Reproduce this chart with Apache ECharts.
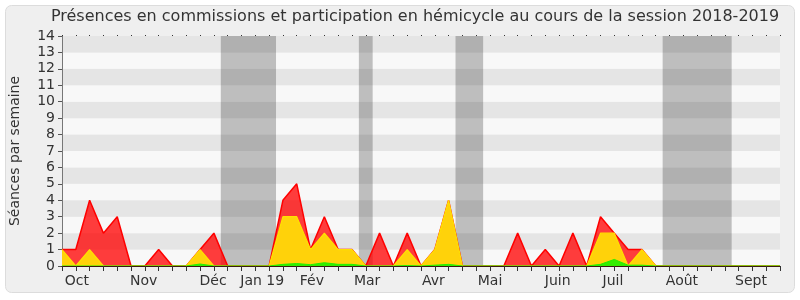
<!DOCTYPE html>
<html><head><meta charset="utf-8">
<script src="https://cdn.jsdelivr.net/npm/echarts@6/dist/echarts.min.js"></script>
<style>html,body{margin:0;padding:0;background:#fff}#c{width:800px;height:300px}</style>
</head><body><div id="c"></div>
<script>
// week index 0..52 (session weeks)
const red    = [1,1,4,2,3,0,0,1,0,0,1,2, 0,0,0,0, 4,5,1,3,1,1, 0,2,0,2,0,1,4,0, 0,0,0,2,0,1,0,2,0,3,2,1,1,0, 0,0,0,0,0,0,0,0,0];
const yellow = [1,0,1,0,0,0,0,0,0,0,1,0, 0,0,0,0, 3,3,1,2,1,1, 0,0,0,1,0,1,4,0, 0,0,0,0,0,0,0,0,0,2,2,0,1,0, 0,0,0,0,0,0,0,0,0];
const green  = [0,0,0,0,0,0,0,0,0,0,0.12,0, 0,0,0,0, 0.1,0.15,0.08,0.2,0.1,0.1, 0,0,0,0.03,0,0.05,0.1,0, 0,0,0,0,0,0,0,0,0,0.1,0.4,0.05,0.05,0, 0,0,0,0,0,0,0,0,0];
const monthNames = ['Oct','Nov','Déc','Jan 19','Fév','Mar','Avr','Mai','Juin','Juil','Août','Sept'];
const monthPos   = [1.08, 5.91, 10.94, 14.5, 18.1, 22.1, 26.9, 31.0, 35.9, 39.9, 44.9, 49.9];
const holidays = [[11.5,15.5],[21.5,22.5],[28.5,30.5],[43.5,48.5]];
const title = 'Présences en commissions et participation en hémicycle au cours de la session 2018-2019';
const yName = 'Séances par semaine';

const font = 'DejaVu Sans';
const toPts = arr => arr.map((v,i)=>[i,v]);
const chart = echarts.init(document.getElementById('c'), null, {renderer:'canvas'});
chart.setOption({
  animation:false,
  textStyle:{fontFamily:font},
  graphic:[{type:'rect', z:-10, shape:{x:5.5,y:5.5,width:789,height:287,r:6}, style:{fill:'#efefef', stroke:'#dcdcdc', lineWidth:1}}],
  title:{text:title, left:410, textAlign:'center', top:4, textStyle:{fontFamily:font, fontSize:16, fontWeight:'normal', color:'#333'}},
  grid:{left:62, right:20, top:36, bottom:34, containLabel:false},
  xAxis:[
    {type:'value', min:0, max:52, interval:1, position:'bottom', z:10,
     axisLine:{show:true, lineStyle:{color:'#3a1a10', width:1}},
     axisTick:{show:true, length:5, lineStyle:{color:'#333'}},
     axisLabel:{show:false}, splitLine:{show:false}},
    {type:'value', min:0, max:52, position:'bottom',
     axisLine:{show:false}, axisTick:{show:false}, splitLine:{show:false},
     axisLabel:{show:true, customValues:monthPos, margin:8, fontSize:14, color:'#333', fontFamily:font,
       formatter:(v)=>{const i=monthPos.indexOf(v); return i>=0?monthNames[i]:'';}}},
    {type:'value', min:0, max:52, interval:1, position:'top',
     axisLine:{show:false}, axisTick:{show:true, length:1, lineStyle:{color:'#333'}},
     axisLabel:{show:false}, splitLine:{show:false}}
  ],
  yAxis:{type:'value', min:0, max:14, interval:1, name:yName, nameLocation:'middle', nameGap:40,
    nameTextStyle:{fontFamily:font, fontSize:14, color:'#333'},
    axisLine:{show:true, lineStyle:{color:'#777'}},
    axisTick:{show:true, length:4, lineStyle:{color:'#555'}},
    axisLabel:{fontSize:14, color:'#333', margin:7, fontFamily:font},
    splitLine:{show:false},
    splitArea:{show:true, areaStyle:{color:['#f8f8f8','#e5e5e5']}}},
  series:[
    {type:'line', data:[], z:1, silent:true,
     markArea:{silent:true, itemStyle:{color:'rgba(0,0,0,0.23)'},
       data:holidays.map(h=>[{xAxis:h[0]},{xAxis:h[1]}])}},
    {type:'line', data:toPts(red), z:2, symbol:'none', lineStyle:{color:'#ff0000', width:1.5},
     areaStyle:{color:'rgba(255,0,0,0.76)', opacity:1}},
    {type:'line', data:toPts(yellow), z:3, symbol:'none', lineStyle:{color:'#ffe000', width:1.2},
     areaStyle:{color:'#ffd20a', opacity:1}},
    {type:'line', data:toPts(green), z:4, symbol:'none', lineStyle:{color:'#22ee00', width:1},
     areaStyle:{color:'#33ee00', opacity:1}}
  ]
});
</script></body></html>
